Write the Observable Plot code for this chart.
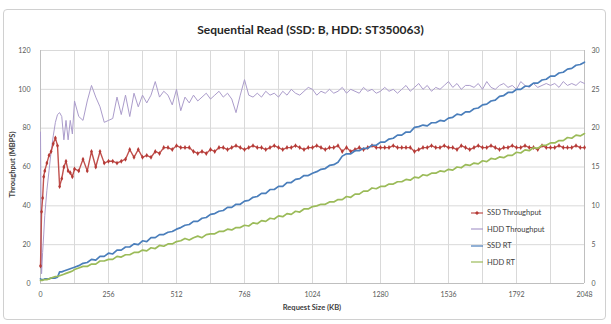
<!DOCTYPE html>
<html><head><meta charset="utf-8">
<script src="https://cdn.jsdelivr.net/npm/d3@7"></script>
<script src="https://cdn.jsdelivr.net/npm/@observablehq/plot@0.6"></script>
<style>
body{margin:0;background:#fff;font-family:Lato,"Open Sans",sans-serif;}
#wrap{position:relative;width:611px;height:324px;overflow:hidden}
#frame{position:absolute;left:3px;top:9px;width:603px;height:311px;border:1px solid #d0d0d0;border-radius:4px;box-sizing:border-box}
#chart{position:absolute;left:0;top:0}
#title{position:absolute;top:22px;left:0;width:621px;text-align:center;font-weight:bold;font-size:12px;color:#262626}
#xtitle{position:absolute;top:303px;left:0;width:624px;text-align:center;font-weight:bold;font-size:7.5px;color:#404040}
#ytitle{position:absolute;left:-38px;top:160px;width:100px;text-align:center;font-weight:bold;font-size:7.5px;color:#404040;transform:rotate(-90deg)}
.lg{position:absolute;font-size:7.5px;color:#404040;white-space:nowrap;display:flex;align-items:center}
.lg svg{margin-right:3px}
</style></head><body>
<div id="wrap">
<div id="frame"></div>
<div id="chart"></div>
<div id="title">Sequential Read (SSD: B, HDD: ST350063)</div>
<div id="xtitle">Request Size (KB)</div>
<div id="ytitle">Throughput (MBPS)</div>
<div id="legend"></div>
</div>
<script>
const sizes = [0,4,8,12,16,24,32,40,48,56,64,72,80,88,96,104,112,120,128,
144,160,176,192,208,224,240,256,272,288,304,320,336,352,368,384,400,416,432,448,464,480,496,512,
528,544,560,576,592,608,624,640,656,672,688,704,720,736,752,768,784,800,816,832,848,864,880,896,912,928,944,960,976,992,1008,1024,
1040,1056,1072,1088,1104,1120,1136,1152,1168,1184,1200,1216,1232,1248,1264,1280,1296,1312,1328,1344,1360,1376,1392,1408,1424,1440,1456,1472,1488,1504,1520,1536,
1552,1568,1584,1600,1616,1632,1648,1664,1680,1696,1712,1728,1744,1760,1776,1792,1808,1824,1840,1856,1872,1888,1904,1920,1936,1952,1968,1984,2000,2016,2032,2048];

const ssdThroughput = [9,37,44,55,58,62,66,68,72,75,71,50,54,60,63,58,57,55,59,
58,64,58,68,60,68,62,63,63,62,63,64,69,65,69,65,66,65,68,67,70,70,69,71,
70,70,70,68,67,68,67,69,68,70,70,69,70,71,70,69,70,71,70,70,69,70,71,70,69,70,70,71,70,69,70,70,
71,70,69,70,70,71,68,70,68,69,70,69,70,71,70,70,70,70,71,70,70,70,70,68,69,70,70,71,70,70,71,70,
70,69,71,70,69,70,71,70,70,71,70,69,70,70,71,70,70,71,70,70,69,71,70,70,70,71,70,70,70,71,70,70];

const hddThroughput = [78,5,16,25,35,48,58,68,76,83,87,88,86,74,84,74,84,77,94,
86,84,94,102,96,91,83,84,85,96,87,97,86,98,91,97,93,97,104,96,99,97,92,100,
89,96,93,97,94,96,98,95,97,99,96,98,95,88,97,105,97,96,98,96,99,97,98,96,99,97,100,98,97,99,101,100,
97,99,98,100,98,99,101,98,100,99,98,101,99,100,98,99,101,99,100,98,100,102,99,101,103,100,102,99,101,100,102,104,
101,103,100,102,102,101,103,100,104,101,100,102,103,101,102,100,104,102,101,103,101,102,103,102,103,101,104,102,103,102,104,103];

const ssdRT = [0.6,0.5,0.5,0.5,0.6,0.6,0.6,0.7,0.7,0.7,0.8,1.5,1.5,1.6,1.7,1.8,1.9,2.0,2.1,
2.3,2.6,2.7,3.1,3.0,3.5,3.5,3.9,3.8,4.3,4.3,4.7,4.7,5.1,5.0,5.5,5.4,5.9,5.9,6.3,6.3,6.6,6.7,7.0,
7.2,7.5,7.6,8.0,8.0,8.4,8.5,8.9,9.0,9.3,9.4,9.8,9.8,10.2,10.2,10.6,10.7,11.1,11.2,11.6,11.6,12.1,12.1,12.5,12.5,13.0,13.0,13.4,13.5,13.9,13.9,14.2,
14.4,14.7,14.8,15.2,15.3,15.6,16.4,16.7,16.7,17.1,17.1,17.4,17.4,17.8,17.8,18.2,18.2,18.6,18.7,19.1,19.1,19.5,19.5,20.1,20.2,20.4,20.3,20.7,20.7,21.0,20.9,21.3,
21.4,21.8,21.7,22.1,22.1,22.5,22.6,23.0,23.1,23.5,23.6,24.1,24.2,24.6,24.6,25.0,25.0,25.4,25.4,25.8,25.8,26.2,26.3,26.7,26.7,27.1,27.2,27.6,27.7,28.1,28.2,28.5];

const hddRT = [0.4,0.4,0.4,0.5,0.5,0.5,0.6,0.7,0.8,0.9,0.9,1.0,1.1,1.2,1.3,1.4,1.5,1.6,1.8,
2.0,2.2,2.2,2.5,2.5,2.9,2.9,3.1,3.1,3.5,3.4,3.7,3.7,4.0,4.0,4.3,4.2,4.6,4.5,4.9,4.8,5.1,5.1,5.4,
5.5,5.8,5.6,5.9,6.1,5.9,6.3,6.4,6.4,6.7,6.7,7.0,6.9,7.2,7.2,7.5,7.4,7.8,7.7,8.1,8.0,8.4,8.3,8.7,8.6,9.0,8.9,9.3,9.2,9.6,9.6,9.9,
10.0,10.2,10.2,10.5,10.5,10.8,10.8,11.2,11.1,11.5,11.5,11.9,11.9,12.3,12.2,12.5,12.5,12.8,12.8,13.1,13.1,13.4,13.3,13.7,13.6,14.0,13.9,14.2,14.2,14.5,14.4,14.7,
14.6,15.0,14.9,15.3,15.2,15.5,15.4,15.8,15.7,16.1,16.0,16.3,16.2,16.5,16.5,16.9,16.8,17.2,17.1,17.5,17.4,17.8,17.8,18.1,18.1,18.4,18.4,18.8,18.7,19.1,19.0,19.3];

const xTicks = [0,256,512,768,1024,1280,1536,1792,2048];
const xGrid = [0,128,256,384,512,640,768,896,1024,1152,1280,1408,1536,1664,1792,1920,2048];
const yTicks = [0,20,40,60,80,100,120];
const rtTicks = [0,5,10,15,20,25,30];
const seriesNames = ["SSD Throughput","HDD Throughput","SSD RT","HDD RT"];
const seriesColors = ["#c0504d","#ab9ccb","#4a7ebb","#9bbb59"];

const rows = sizes.map((s,i)=>({size:s, ssdT:ssdThroughput[i], hddT:hddThroughput[i], ssdRT:ssdRT[i], hddRT:hddRT[i]}));
const RT_RATIO = 120/30;

const chart = Plot.plot({
  width:611, height:324,
  marginLeft:40, marginRight:27, marginTop:50, marginBottom:41,
  style:{fontFamily:"Lato, 'Open Sans', sans-serif", fontSize:"7px", color:"#595959", background:"transparent"},
  x:{domain:[0,2048]},
  y:{domain:[0,120]},
  marks:[
    Plot.gridX(xGrid,{stroke:"#d9d9d9", strokeOpacity:1}),
    Plot.gridY(yTicks,{stroke:"#d9d9d9", strokeOpacity:1}),
    Plot.ruleY([0],{stroke:"#bfbfbf"}),
    Plot.ruleX([0,2048],{stroke:"#bfbfbf"}),
    Plot.axisX(xTicks,{tickSize:0, tickPadding:9, label:null, tickFormat:d=>String(d), fill:"#595959"}),
    Plot.axisY(yTicks,{anchor:"left", tickSize:0, tickPadding:10, label:null, fill:"#595959"}),
    Plot.axisY(rtTicks.map(t=>t*RT_RATIO),{anchor:"right", tickSize:0, tickPadding:7, label:null, tickFormat:d=>String(d/RT_RATIO), fill:"#595959"}),
    Plot.line(rows,{x:"size", y:"hddT", stroke:seriesColors[1], strokeWidth:1}),
    Plot.line(rows,{x:"size", y:"ssdT", stroke:seriesColors[0], strokeWidth:1.4}),
    Plot.dot(rows,{x:"size", y:"ssdT", r:1.5, fill:"#b53a36", symbol:"diamond"}),
    Plot.line(rows,{x:"size", y:d=>d.ssdRT*RT_RATIO, stroke:seriesColors[2], strokeWidth:1.7}),
    Plot.line(rows,{x:"size", y:d=>d.hddRT*RT_RATIO, stroke:seriesColors[3], strokeWidth:1.7})
  ]
});
document.getElementById("chart").appendChild(chart);

const legend = document.getElementById("legend");
seriesNames.forEach((name,i)=>{
  const el = document.createElement("div");
  el.className = "lg";
  el.style.left = "470px";
  el.style.top = (208 + i*16.5) + "px";
  const mk = i===0 ? `<path d="M7,1 L9,3 L7,5 L5,3 Z" fill="#b53a36"/>` : "";
  el.innerHTML = `<svg width="14" height="6"><line x1="1" y1="3" x2="13" y2="3" stroke="${seriesColors[i]}" stroke-width="1.2"/>${mk}</svg><span>${name}</span>`;
  legend.appendChild(el);
});
</script>
</body></html>
